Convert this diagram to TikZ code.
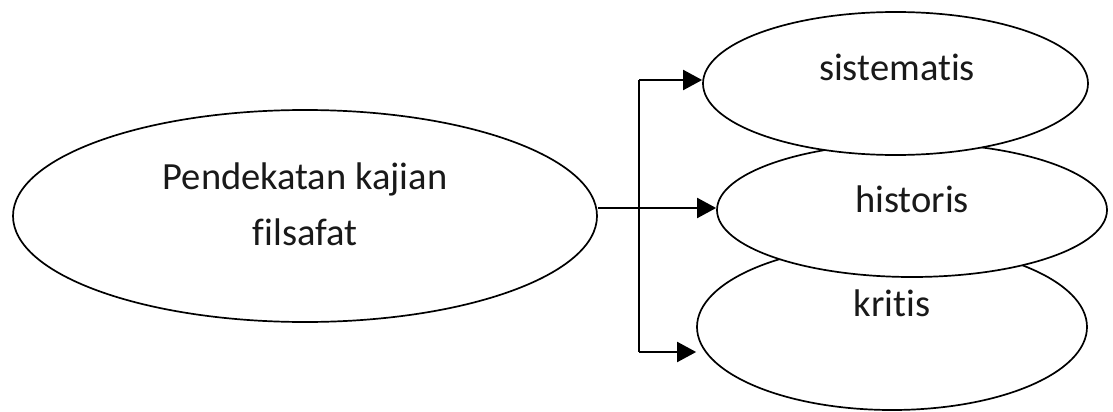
\documentclass[tikz,border=0pt]{standalone}
\usepackage{fontspec}
\setmainfont{Carlito}[Ligatures={NoCommon,NoRare,NoContextual}]
\usetikzlibrary{shapes.geometric,arrows.meta}
\begin{document}
\begin{tikzpicture}[x=1pt,y=-1pt,
  oval/.style={draw=black,line width=1.7pt,fill=white,ellipse,inner sep=0pt},
  lbl/.style={font=\fontsize{38.5}{56}\selectfont,text=black!90,inner sep=0pt},
  conn/.style={line width=2pt,draw=black},
  arr/.style={conn,-{Triangle[length=19pt,width=20pt]}}]
\useasboundingbox (0,0) rectangle (1113,412);
% ellipses (drawn bottom-up so overlaps match)
\node[oval,minimum width=584pt,minimum height=212pt] (pk) at (305,216) {};
\node[oval,minimum width=390pt,minimum height=166pt] (kri) at (892,327) {};
\node[oval,minimum width=390pt,minimum height=134pt] (his) at (912,210) {};
\node[oval,minimum width=385pt,minimum height=143pt] (sis) at (895.5,83.5) {};
% labels
\node[lbl,align=center,anchor=center] (pkt) at (305,204) {Pendekatan kajian\\filsafat};
\node[lbl,anchor=base] (sist) at (897,80) {sistematis};
\node[lbl,anchor=base] (hist) at (912,212) {historis};
\node[lbl,anchor=base] (krit) at (892,316) {kritis};
% connectors
\coordinate (jt) at (639,80);
\coordinate (jm) at (639,208);
\coordinate (jb) at (639,352);
\draw[conn] (jt) -- (jb);
\draw[arr] (pk.east |- jm) -- (his.west |- jm);
\draw[arr] (jt) -- (sis.west |- jt);
\draw[arr] (jb) -- (kri.west |- jb);
\end{tikzpicture}
\end{document}
